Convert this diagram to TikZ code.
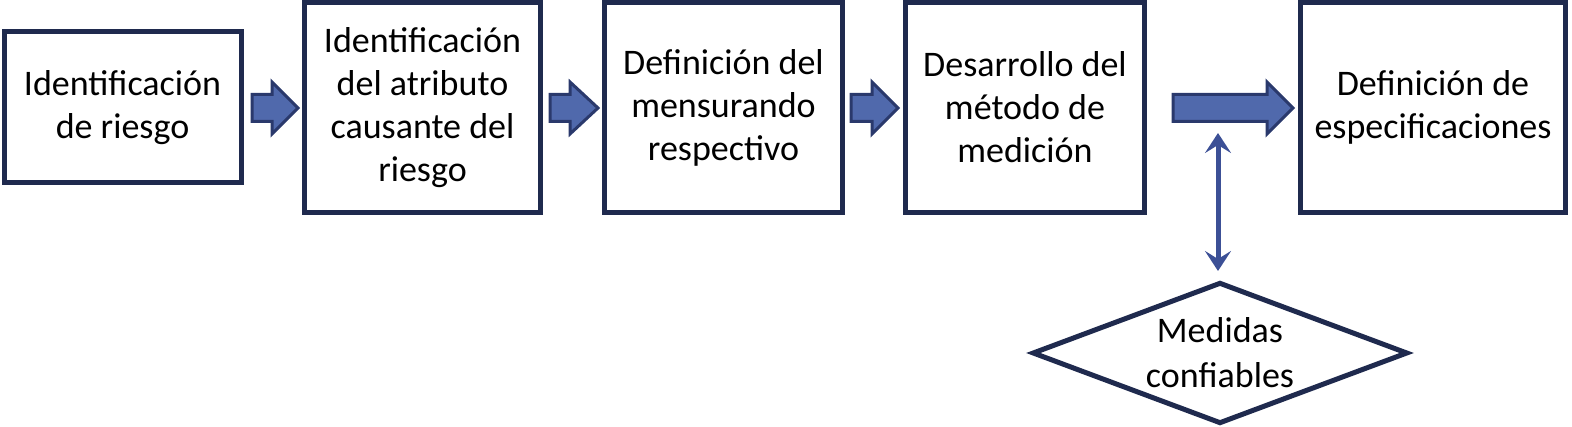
\documentclass[tikz,border=0pt]{standalone}
\usepackage{fontspec}
\setmainfont{Carlito}
\usetikzlibrary{arrows.meta,calc}
\definecolor{boxc}{HTML}{1F2A4E}
\definecolor{arrf}{HTML}{5069AC}
\definecolor{arrd}{HTML}{2A396C}
\definecolor{darr}{HTML}{3C5096}
\tikzset{
  stepbox/.style={draw=boxc,line width=5pt,fill=white,inner sep=0pt,align=center,
    font=\fontsize{36}{43}\selectfont},
  blk/.style={draw=arrd,fill=arrf,line width=3pt,line join=miter},
  dbl/.style={draw=darr,line width=5pt,{Stealth[length=20pt,width=26pt,inset=8pt]}-{Stealth[length=20pt,width=26pt,inset=8pt]}}
}
\newcommand\blkarr[4]{% #1 node, #2 x start, #3 x head, #4 x tip
  \draw[blk] (#2,94.5) -- (#3,94.5) -- (#3,82) -- (#4,108) -- (#3,134) -- (#3,121.5) -- (#2,121.5) -- cycle;}
\begin{document}
\begin{tikzpicture}[x=1pt,y=-1pt]
\useasboundingbox (0,0) rectangle (1572,427);
\node[stepbox,minimum width=237pt,minimum height=151pt] (b1) at (122.5,107.5) {Identificación\\de riesgo};
\node[stepbox,minimum width=236pt,minimum height=210pt] (b2) at (422.5,107.5) {Identificación\\del atributo\\causante del\\riesgo};
\node[stepbox,minimum width=238pt,minimum height=210pt] (b3) at (723.5,107.5) {Definición del\\mensurando\\respectivo};
\node[stepbox,minimum width=239pt,minimum height=210pt] (b4) at (1025,107.5) {Desarrollo del\\método de\\medición};
\node[stepbox,minimum width=265pt,minimum height=210pt] (b5) at (1433,107.5) {Definición de\\especificaciones};
\node[inner sep=0pt,align=center,minimum width=373pt,minimum height=139pt,
  font=\fontsize{36}{45}\selectfont] (dia) at (1220,353) {Medidas\\confiables};
\draw[draw=boxc,line width=5pt,line join=miter] (dia.north) -- (dia.east) -- (dia.south) -- (dia.west) -- cycle;
\blkarr{b1}{252}{272}{298}
\blkarr{b2}{550}{570}{598}
\blkarr{b3}{851}{872}{898}
\blkarr{b4}{1173}{1267}{1293}
\coordinate (dtop) at (1218,133);
\coordinate (dbot) at (1218,271);
\draw[dbl] (dtop) -- (dbot);
\end{tikzpicture}
\end{document}
